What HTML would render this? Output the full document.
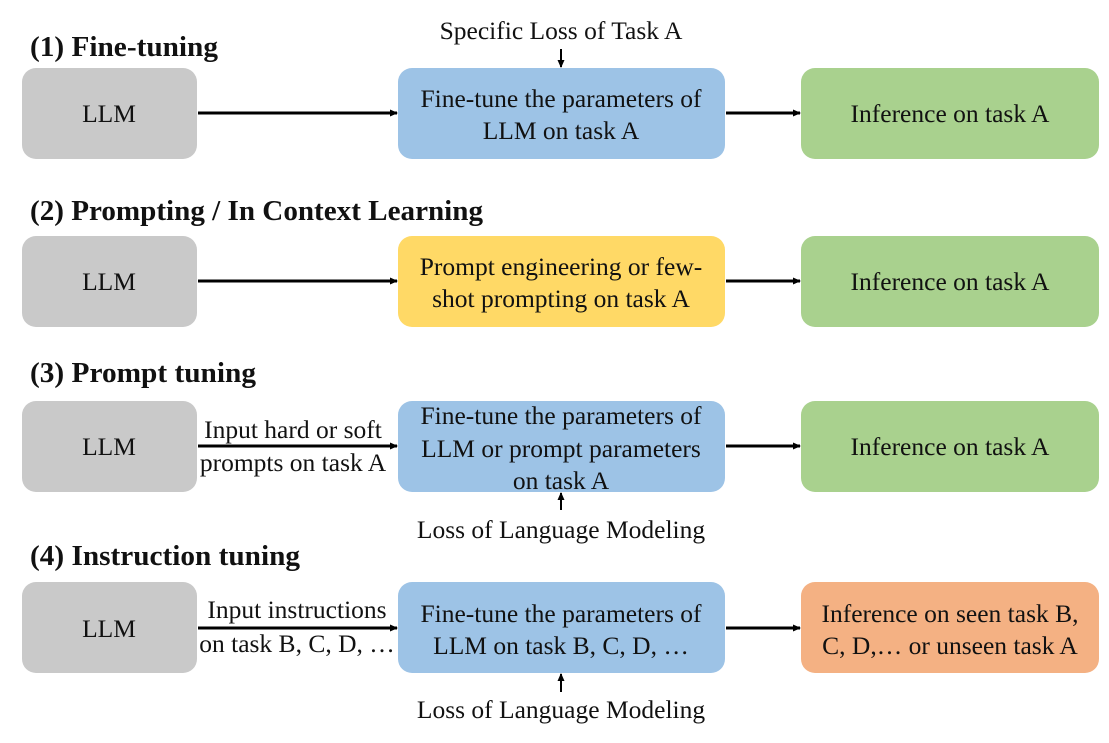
<!DOCTYPE html>
<html><head><meta charset="utf-8"><style>
html,body{margin:0;padding:0;background:#fff;width:1109px;height:743px;overflow:hidden;font-family:"Liberation Serif","DejaVu Serif",serif}
text{font-family:"Liberation Serif","DejaVu Serif",serif;fill:#111}
.t{font-size:25.5px;text-anchor:middle}
.h{font-size:28.5px;font-weight:bold}
</style></head><body>
<svg width="1109" height="743" viewBox="0 0 1109 743" xmlns="http://www.w3.org/2000/svg" font-family="Liberation Serif, DejaVu Serif, serif">
<defs><marker id="a" markerWidth="8" markerHeight="8" refX="7" refY="4" orient="auto" markerUnits="userSpaceOnUse"><path d="M0,0.5 L8,4 L0,7.5z" fill="#000"/></marker></defs>
<g stroke="#000" stroke-width="3" fill="none" marker-end="url(#a)">
<line x1="198" y1="113" x2="397" y2="113"/><line x1="726" y1="113" x2="800" y2="113"/>
<line x1="198" y1="281" x2="397" y2="281"/><line x1="726" y1="281" x2="800" y2="281"/>
<line x1="198" y1="446" x2="397" y2="446"/><line x1="726" y1="446" x2="800" y2="446"/>
<line x1="198" y1="628" x2="397" y2="628"/><line x1="726" y1="628" x2="800" y2="628"/>
</g>
<g stroke="#000" stroke-width="2" fill="none" marker-end="url(#a)">
<line x1="561" y1="49" x2="561" y2="67"/>
<line x1="561" y1="510" x2="561" y2="493"/>
<line x1="561" y1="692" x2="561" y2="674"/>
</g>
<g>
<rect x="22" y="68" width="175" height="91" rx="14" fill="#c9c9c9"/>
<rect x="398" y="68" width="327" height="91" rx="14" fill="#9dc3e6"/>
<rect x="801" y="68" width="298" height="91" rx="14" fill="#a9d18e"/>
<rect x="22" y="236" width="175" height="91" rx="14" fill="#c9c9c9"/>
<rect x="398" y="236" width="327" height="91" rx="14" fill="#ffd966"/>
<rect x="801" y="236" width="298" height="91" rx="14" fill="#a9d18e"/>
<rect x="22" y="401" width="175" height="91" rx="14" fill="#c9c9c9"/>
<rect x="398" y="401" width="327" height="91" rx="14" fill="#9dc3e6"/>
<rect x="801" y="401" width="298" height="91" rx="14" fill="#a9d18e"/>
<rect x="22" y="582" width="175" height="91" rx="14" fill="#c9c9c9"/>
<rect x="398" y="582" width="327" height="91" rx="14" fill="#9dc3e6"/>
<rect x="801" y="582" width="298" height="91" rx="14" fill="#f4b183"/>
</g>
<text class="h" x="30" y="56" textLength="188" lengthAdjust="spacingAndGlyphs">(1) Fine-tuning</text>
<text class="h" x="30" y="220" textLength="453" lengthAdjust="spacingAndGlyphs">(2) Prompting / In Context Learning</text>
<text class="h" x="30" y="382" textLength="226" lengthAdjust="spacingAndGlyphs">(3) Prompt tuning</text>
<text class="h" x="30" y="565" textLength="270" lengthAdjust="spacingAndGlyphs">(4) Instruction tuning</text>
<text class="t" x="561" y="39">Specific Loss of Task A</text>
<text class="t" x="109" y="122">LLM</text>
<text class="t" x="561" y="107">Fine-tune the parameters of</text>
<text class="t" x="561" y="139">LLM on task A</text>
<text class="t" x="950" y="122">Inference on task A</text>
<text class="t" x="109" y="290">LLM</text>
<text class="t" x="561" y="275">Prompt engineering or few-</text>
<text class="t" x="561" y="307">shot prompting on task A</text>
<text class="t" x="950" y="290">Inference on task A</text>
<text class="t" x="109" y="455">LLM</text>
<text class="t" x="293" y="438">Input hard or soft</text>
<text class="t" x="293" y="471">prompts on task A</text>
<text class="t" x="561" y="424">Fine-tune the parameters of</text>
<text class="t" x="561" y="457">LLM or prompt parameters</text>
<text class="t" x="561" y="489">on task A</text>
<text class="t" x="950" y="455">Inference on task A</text>
<text class="t" x="561" y="538">Loss of Language Modeling</text>
<text class="t" x="109" y="637">LLM</text>
<text class="t" x="297" y="618">Input instructions</text>
<text class="t" x="297" y="652">on task B, C, D, …</text>
<text class="t" x="561" y="622">Fine-tune the parameters of</text>
<text class="t" x="561" y="654">LLM on task B, C, D, …</text>
<text class="t" x="950" y="622">Inference on seen task B,</text>
<text class="t" x="950" y="654">C, D,… or unseen task A</text>
<text class="t" x="561" y="718">Loss of Language Modeling</text>
</svg>
</body></html>
